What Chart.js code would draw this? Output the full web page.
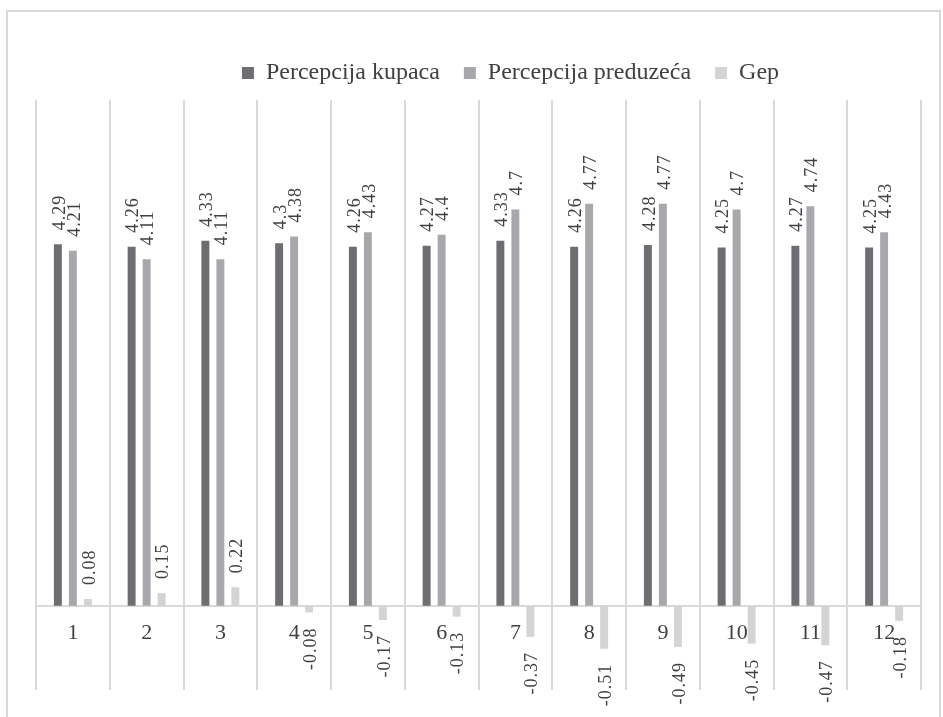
<!DOCTYPE html>
<html>
<head>
<meta charset="utf-8">
<script src="https://cdn.jsdelivr.net/npm/chart.js@4/dist/chart.umd.min.js"></script>
<style>
  html, body { margin: 0; padding: 0; background: #fff; }
  #wrap { width: 943px; height: 717px; }
</style>
</head>
<body>
<div id="wrap"><canvas id="chart"></canvas></div>
<script>
const categories = ['1', '2', '3', '4', '5', '6', '7', '8', '9', '10', '11', '12'];
const seriesNames = ['Percepcija kupaca', 'Percepcija preduzeća', 'Gep'];
const kupci = [4.29, 4.26, 4.33, 4.3, 4.26, 4.27, 4.33, 4.26, 4.28, 4.25, 4.27, 4.25];
const preduzece = [4.21, 4.11, 4.11, 4.38, 4.43, 4.4, 4.7, 4.77, 4.77, 4.7, 4.74, 4.43];
const gep = [0.08, 0.15, 0.22, -0.08, -0.17, -0.13, -0.37, -0.51, -0.49, -0.45, -0.47, -0.18];

const textColor = '#404040';
const gridColor = '#d9d9d9';
const serif = '"Liberation Serif", "Times New Roman", serif';

// value labels, turned to read from bottom to top
const valueLabels = {
    id: 'valueLabels',
    afterDatasetsDraw( chart )
    {
        const ctx = chart.ctx;
        ctx.save();
        ctx.font = '18px ' + serif;
        ctx.fillStyle = textColor;
        ctx.textBaseline = 'middle';
        ctx.letterSpacing = '1px';

        chart.data.datasets.forEach(( ds, i ) =>
        {
            chart.getDatasetMeta(i).data.forEach(( bar, j ) =>
            {
                const v = ds.data[j];
                ctx.save();
                // +2 so the digits (not the em box) sit over the bar
                if( v >= 0 )
                {
                    ctx.translate(bar.x + 2, bar.y - 14);
                    ctx.textAlign = 'left';
                }
                else
                {
                    ctx.translate(bar.x + 2, bar.y + 15);
                    ctx.textAlign = 'right';
                }
                ctx.rotate(-Math.PI / 2);
                ctx.fillText(String(v), 0, 0);
                ctx.restore();
            });
        });
        ctx.restore();
    }
};

// outer frame of the chart
const frame = {
    id: 'frame',
    beforeDraw( chart )
    {
        const ctx = chart.ctx;
        ctx.save();
        ctx.strokeStyle = gridColor;
        ctx.lineWidth = 2;
        ctx.strokeRect(7, 11, 933, 720);
        ctx.restore();
    }
};

// move the legend a bit: higher up and to the right
const legendNudge = {
    id: 'legendNudge',
    afterLayout( chart )
    {
        const l = chart.legend;
        l.top -= 23;
        l.left += 32;
        l.right += 32;
    }
};

new Chart(document.getElementById('chart'), {
    type: 'bar',
    data: {
        labels: categories,
        datasets: [
            { label: seriesNames[0], data: kupci, backgroundColor: '#6d6e71' },
            { label: seriesNames[1], data: preduzece, backgroundColor: '#a7a8ab' },
            { label: seriesNames[2], data: gep, backgroundColor: '#d3d4d6' }
        ]
    },
    options: {
        responsive: true,
        maintainAspectRatio: false,
        animation: false,
        layout: { padding: { left: 36, right: 22, top: 60, bottom: 27 } },
        datasets: {
            bar: { categoryPercentage: 0.61, barPercentage: 0.53, borderWidth: 0 }
        },
        plugins: {
            legend: {
                position: 'top',
                maxHeight: 40,
                labels: {
                    boxWidth: 12,
                    boxHeight: 12,
                    padding: 24,
                    color: textColor,
                    font: { family: serif, size: 24 }
                }
            },
            tooltip: { enabled: false }
        },
        scales: {
            x: {
                position: { y: 0 },
                grid: { offset: true, color: gridColor, lineWidth: 2, drawTicks: false },
                border: { color: gridColor, width: 2 },
                ticks: {
                    color: textColor,
                    padding: 14,
                    font: { family: serif, size: 22 }
                }
            },
            y: {
                display: false,
                min: -1,
                max: 6
            }
        }
    },
    plugins: [ valueLabels, frame, legendNudge ]
});
</script>
</body>
</html>
